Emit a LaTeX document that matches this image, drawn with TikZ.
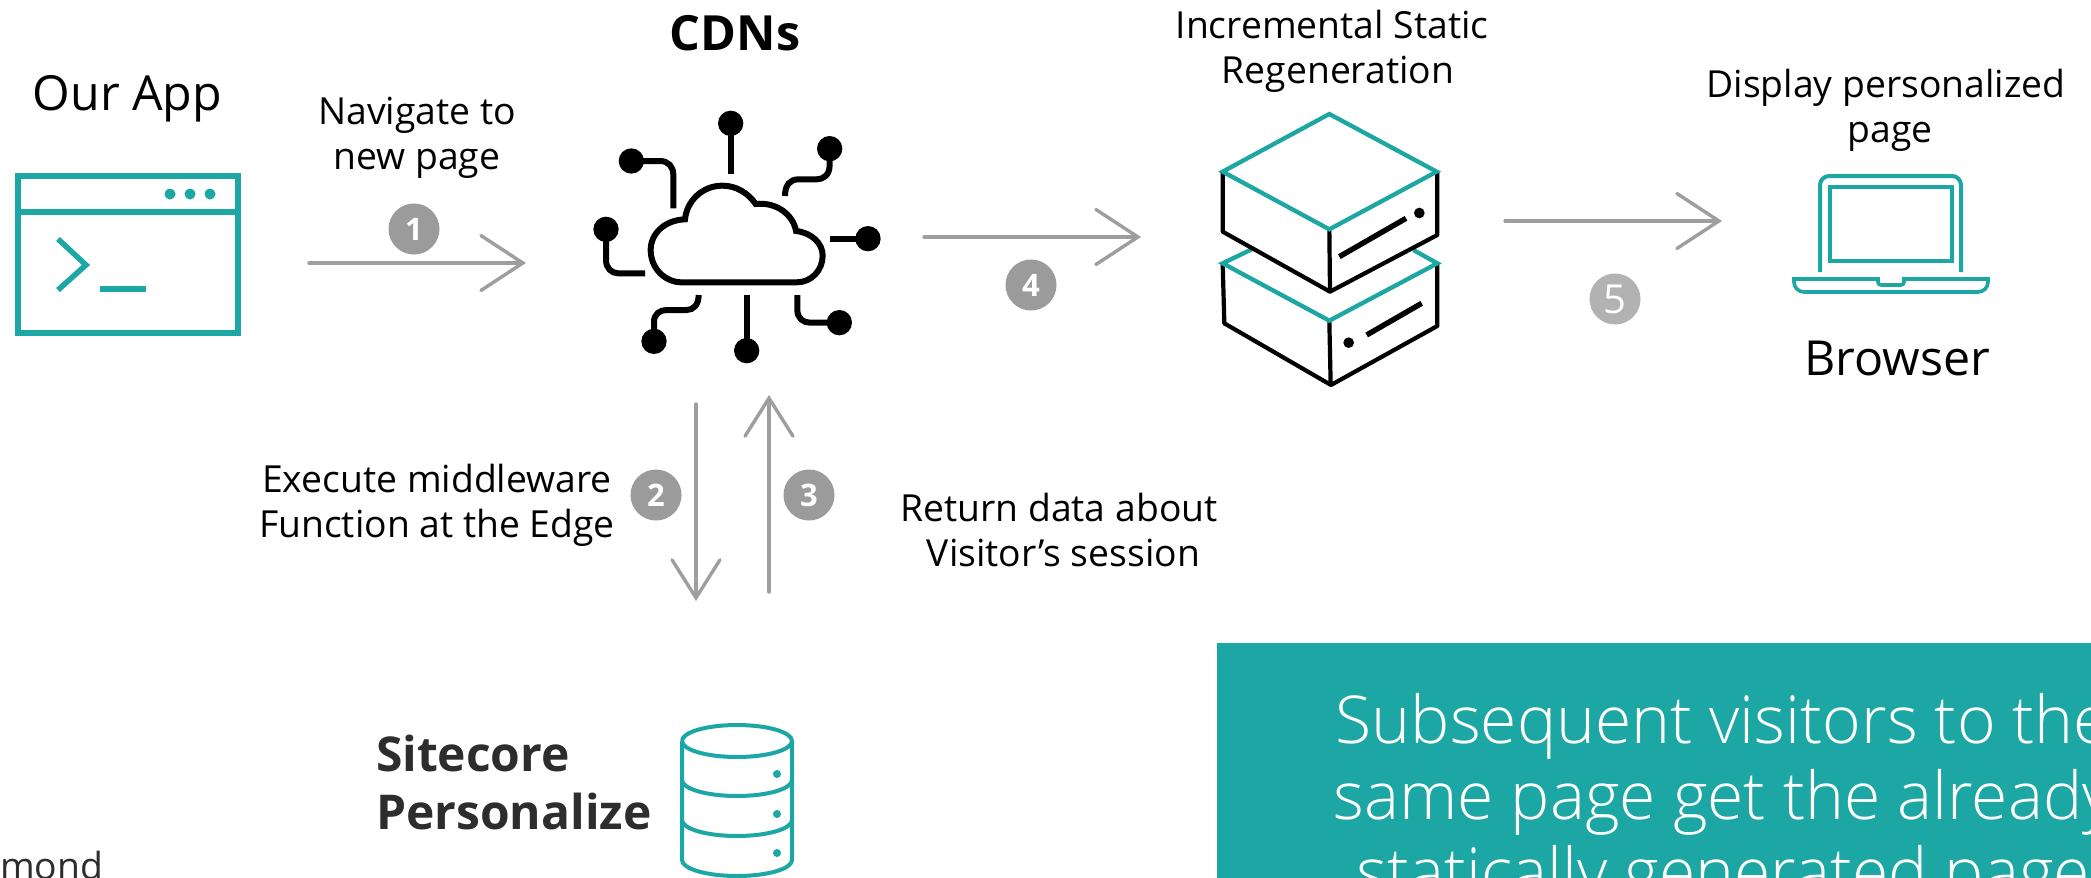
\documentclass[tikz,border=0pt]{standalone}
\usepackage{fontspec}
\setmainfont{Open Sans}
\newfontfamily\lightfont{Open Sans Light}
\usetikzlibrary{arrows.meta}
\definecolor{teal1}{HTML}{1CA6A4}
\definecolor{arrowgray}{HTML}{9E9E9E}
\definecolor{badge}{HTML}{9B9B9B}
\definecolor{badgelight}{HTML}{B2B2B2}
\definecolor{darktxt}{HTML}{2D2D2D}
\tikzset{
  flow/.style={draw=arrowgray,line width=3.4pt,line cap=round,-{Straight Barb[length=42pt,width=55pt,line cap=round,line join=miter]}},
  flowv/.style={draw=arrowgray,line width=3.4pt,line cap=round,-{Straight Barb[length=38pt,width=48pt,line cap=round,line join=miter]}},
  lbl/.style={inner sep=0pt,outer sep=0pt,align=center,font=\fontsize{37.3}{45}\selectfont,text=black,anchor=base},
  big/.style={inner sep=0pt,outer sep=0pt,font=\fontsize{48.3}{56}\selectfont,text=black,anchor=base},
  boldlbl/.style={inner sep=0pt,outer sep=0pt,align=left,font=\fontsize{48}{58}\selectfont\bfseries,text=darktxt,anchor=base west},
  numbadge/.style={circle,fill=badge,text=white,inner sep=0pt,minimum size=51pt,font=\fontsize{31}{31}\selectfont\bfseries},
  ic/.style={draw=black,line width=6pt},
  icdot/.style={fill=black},
  tl/.style={draw=teal1,line width=5.5pt},
  tlthin/.style={draw=teal1,line width=4pt},
  srvteal/.style={draw=teal1,line width=4.3pt,line join=miter},
  srvblack/.style={draw=black,line width=4.2pt,line join=round},
}
\begin{document}
\begin{tikzpicture}[x=1pt,y=-1pt]
\useasboundingbox (0,0) rectangle (2091,878);
\clip (0,0) rectangle (2091,878);
\fill[white] (0,0) rectangle (2091,878);

% teal panel
\fill[teal1] (1217,643) rectangle (2091,878);
\node[inner sep=0pt,align=center,text=white,font=\lightfont\fontsize{66}{76}\selectfont,anchor=base] (note) at (1723,895)
 {Subsequent visitors to the\\same page get the already\\statically generated page};

% App window
\draw[tl] (18,176) rectangle (238,333);
\draw[tl] (18,212) -- (238,212);
\foreach \px in {170,190,210} \fill[teal1] (\px,194) circle (5.5);
\draw[tl,line join=miter] (58,239) -- (86,265) -- (58,290);
\draw[teal1,line width=6pt] (100,289) -- (146,289);
\node[big] (app) at (127.5,110) {Our App};

% texts
\node[lbl] (nav) at (417,169) {Navigate to\\new page};
\node[boldlbl,anchor=base,font=\fontsize{48.5}{56}\selectfont\bfseries,text=black] (cdn) at (735,50) {CDNs};
\node[lbl] (isr) at (1332,83) {Incremental Static\\\hspace*{12pt}Regeneration};
\node[lbl] (disp) at (1886,142) {Display personalized\\\hspace*{8pt}page};
\node[big] (brw) at (1897,375) {Browser};
\node[lbl] (exec) at (437,537) {Execute middleware\\Function at the Edge};
\node[lbl] (ret) at (1059,566) {Return data about\\\hspace*{9pt}Visitor’s session};
\node[boldlbl] (sc) at (376,829.5) {Sitecore\\Personalize};
\node[lbl,anchor=base east,text=darktxt] (cut) at (103,879) {mond};

% connectors
\coordinate (a1s) at (309,263); \coordinate (a1e) at (526,263);
\coordinate (a2s) at (696,404);  \coordinate (a2e) at (696,601);
\coordinate (a3s) at (769,592);  \coordinate (a3e) at (769,395);
\coordinate (a4s) at (924,237);  \coordinate (a4e) at (1141,237);
\coordinate (a5s) at (1505,221); \coordinate (a5e) at (1722,221);
\draw[flow] (a1s) -- (a1e);
\draw[flowv] (a2s) -- (a2e);
\draw[flowv] (a3s) -- (a3e);
\draw[flow] (a4s) -- (a4e);
\draw[flow] (a5s) -- (a5e);

% badges
\node[numbadge] (b1) at (414,229) {1};
\node[numbadge] (b2) at (656,495) {2};
\node[numbadge] (b3) at (809,495) {3};
\node[numbadge] (b4) at (1031,285) {4};
\node[numbadge,fill=badgelight,font=\fontsize{40}{40}\selectfont] (b5) at (1615,299) {5};

% CDN cloud icon
\begin{scope}[shift={(560,90)},x=0.33333pt,y=-0.33333pt]
\draw[ic,line join=miter] (365,577) -- (710,577) .. controls (755,577) and (788,540) .. (788,497)
 .. controls (788,460) and (755,428) .. (708,423) .. controls (700,375) and (650,335) .. (587,342)
 .. controls (565,310) and (530,287) .. (487,287) .. controls (425,287) and (380,335) .. (375,388)
 .. controls (315,390) and (272,430) .. (272,480) .. controls (272,535) and (315,577) .. (365,577) -- cycle;
\draw[ic] (512,100) -- (512,252);
\draw[ic] (809,176) -- (809,225) .. controls (809,255) and (790,268) .. (770,268) -- (715,268) .. controls (690,268) and (675,285) .. (675,318);
\draw[ic] (924,446) -- (810,446);
\draw[ic] (712,615) -- (712,660) .. controls (712,685) and (730,698) .. (750,698) -- (838,698);
\draw[ic] (560,615) -- (560,782);
\draw[ic] (282,754) -- (282,695) .. controls (282,672) and (300,660) .. (320,660) -- (380,660) .. controls (400,660) and (416,645) .. (416,615);
\draw[ic] (138,418) -- (138,510) .. controls (138,535) and (155,550) .. (175,550) -- (255,550);
\draw[ic] (214,213) -- (300,213) .. controls (325,213) and (340,230) .. (340,255) -- (340,355);
\foreach \cx/\cy in {512/100,809/176,924/446,838/698,560/782,282/754,138/418,214/213}
  \fill[icdot] (\cx,\cy) circle (38);
\end{scope}

% Server stack icon
\begin{scope}[shift={(1180,90)},x=0.33333pt,y=-0.33333pt]
\draw[srvblack] (128,520) -- (133,700) -- (453,885) -- (772,708) -- (772,520);
\draw[srvblack] (448,692) -- (452,885);
\draw[srvteal] (215,478) -- (128,520) -- (448,692) -- (772,520) -- (700,480);
\draw[black,line width=5.4pt] (560,735) -- (725,640);
\fill[black] (506,758) circle (16);
\draw[srvblack] (128,245) -- (128,425) -- (450,605) -- (772,435) -- (772,245);
\draw[srvblack] (448,418) -- (450,605);
\draw[srvteal] (448,72) -- (770,245) -- (448,418) -- (128,245) -- cycle;
\draw[black,line width=5.4pt] (478,500) -- (678,385);
\fill[black] (718,369) circle (16);
\end{scope}

% Laptop
\draw[tlthin,rounded corners=9pt] (1820,272) -- (1820,176) -- (1961,176) -- (1961,272);
\draw[tlthin] (1830,187) rectangle (1952,261);
\draw[tlthin,line width=3.6pt] (1794,279) -- (1878,279) [rounded corners=3pt] -- (1878,285) -- (1904,285) [sharp corners] -- (1904,279) -- (1988,279) [rounded corners=10pt] -- (1988,292) -- (1794,292) [sharp corners] -- cycle;

% Database
\draw[tlthin] (682,741) arc[start angle=180,end angle=-180,x radius=55,y radius=16];
\draw[tlthin] (682,741) -- (682,860) arc[start angle=180,end angle=360,x radius=55,y radius=-16] -- (792,741);
\draw[tlthin] (682,780) arc[start angle=180,end angle=360,x radius=55,y radius=-16];
\draw[tlthin] (682,820) arc[start angle=180,end angle=360,x radius=55,y radius=-16];
\foreach \dy in {774,814,853} \fill[teal1] (777,\dy) circle (4);
\end{tikzpicture}
\end{document}
